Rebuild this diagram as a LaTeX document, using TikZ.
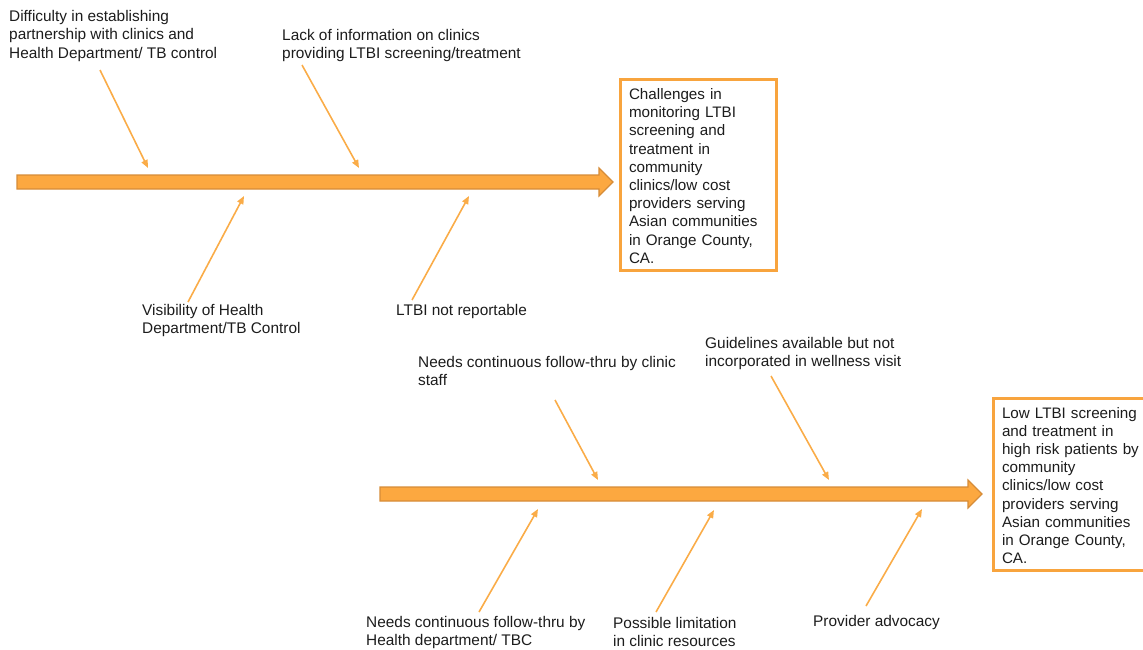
\documentclass[tikz,border=0pt]{standalone}
\usepackage{fontspec}
\setmainfont{Liberation Sans}
\usetikzlibrary{arrows.meta}
\definecolor{spinefill}{RGB}{252,168,64}
\definecolor{spineedge}{RGB}{214,140,56}
\definecolor{bonecol}{RGB}{250,172,72}
\definecolor{boxedge}{RGB}{248,164,62}
\definecolor{ink}{RGB}{28,28,28}

\begin{document}
\begin{tikzpicture}[x=1pt,y=-1pt,
  spine/.style={fill=spinefill, draw=spineedge, line width=1.2pt, line join=miter},
  bone/.style={draw=bonecol, line width=1.6pt, -{Triangle[length=8pt,width=6.5pt]}},
  cause/.style={anchor=north west, inner sep=0pt, align=left, text=ink,
    font=\fontsize{15.4}{18.6}\selectfont},
  effect/.style={draw=boxedge, line width=3pt, anchor=north west, align=left,
    inner xsep=8.5pt, inner ysep=0pt, text=ink,
    font=\fontsize{15.2}{18.2}\selectfont}]

\useasboundingbox (0,0) rectangle (1143,649);
\clip (0,0) rectangle (1143,649);

% ---------- upper fishbone ----------
\draw[spine] (17,175) -- (599,175) -- (599,168) -- (613,182) -- (599,196)
  -- (599,189) -- (17,189) -- cycle;

\node[effect, minimum width=156pt, minimum height=191pt, text width=139pt]
  (effectA) at (619,78)
  {\strut Challenges in\\ monitoring LTBI\\ screening and\\ treatment in\\
   community\\ clinics/low cost\\ providers serving\\ Asian communities\\
   in Orange County,\\ CA.};

\node[cause] (cA1) at (9,8)
  {\strut Difficulty in establishing\\ partnership with clinics and\\ Health Department/ TB control};
\node[cause] (cA2) at (282,27)
  {\strut Lack of information on clinics\\ providing LTBI screening/treatment};
\node[cause] (cA3) at (142,302)
  {\strut Visibility of Health\\ Department/TB Control};
\node[cause] (cA4) at (396,302) {\strut LTBI not reportable};

\coordinate (tA1) at (100,70);   \coordinate (hA1) at (148,168);
\coordinate (tA2) at (302,65);   \coordinate (hA2) at (359,168);
\coordinate (tA3) at (188,302);  \coordinate (hA3) at (244,196);
\coordinate (tA4) at (412,300);  \coordinate (hA4) at (469,196);
\draw[bone] (tA1) -- (hA1);
\draw[bone] (tA2) -- (hA2);
\draw[bone] (tA3) -- (hA3);
\draw[bone] (tA4) -- (hA4);

% ---------- lower fishbone ----------
\draw[spine] (380,487) -- (968,487) -- (968,480) -- (982,494) -- (968,508)
  -- (968,501) -- (380,501) -- cycle;

\node[effect, minimum width=166pt, minimum height=172pt, text width=149pt]
  (effectB) at (992,397)
  {\strut Low LTBI screening\\ and treatment in\\ high risk patients by\\
   community\\ clinics/low cost\\ providers serving\\ Asian communities\\
   in Orange County,\\ CA.};

\node[cause] (cB1) at (418,354)
  {\strut Needs continuous follow-thru by clinic\\ staff};
\node[cause] (cB2) at (705,335)
  {\strut Guidelines available but not\\ incorporated in wellness visit};
\node[cause] (cB3) at (366,614)
  {\strut Needs continuous follow-thru by\\ Health department/ TBC};
\node[cause] (cB4) at (613,615)
  {\strut Possible limitation\\ in clinic resources};
\node[cause] (cB5) at (813,613) {\strut Provider advocacy};

\coordinate (tB1) at (555,400);  \coordinate (hB1) at (598,480);
\coordinate (tB2) at (771,376);  \coordinate (hB2) at (829,480);
\coordinate (tB3) at (479,612);  \coordinate (hB3) at (538,509);
\coordinate (tB4) at (656,612);  \coordinate (hB4) at (714,510);
\coordinate (tB5) at (866,606);  \coordinate (hB5) at (922,509);
\draw[bone] (tB1) -- (hB1);
\draw[bone] (tB2) -- (hB2);
\draw[bone] (tB3) -- (hB3);
\draw[bone] (tB4) -- (hB4);
\draw[bone] (tB5) -- (hB5);
\end{tikzpicture}
\end{document}
